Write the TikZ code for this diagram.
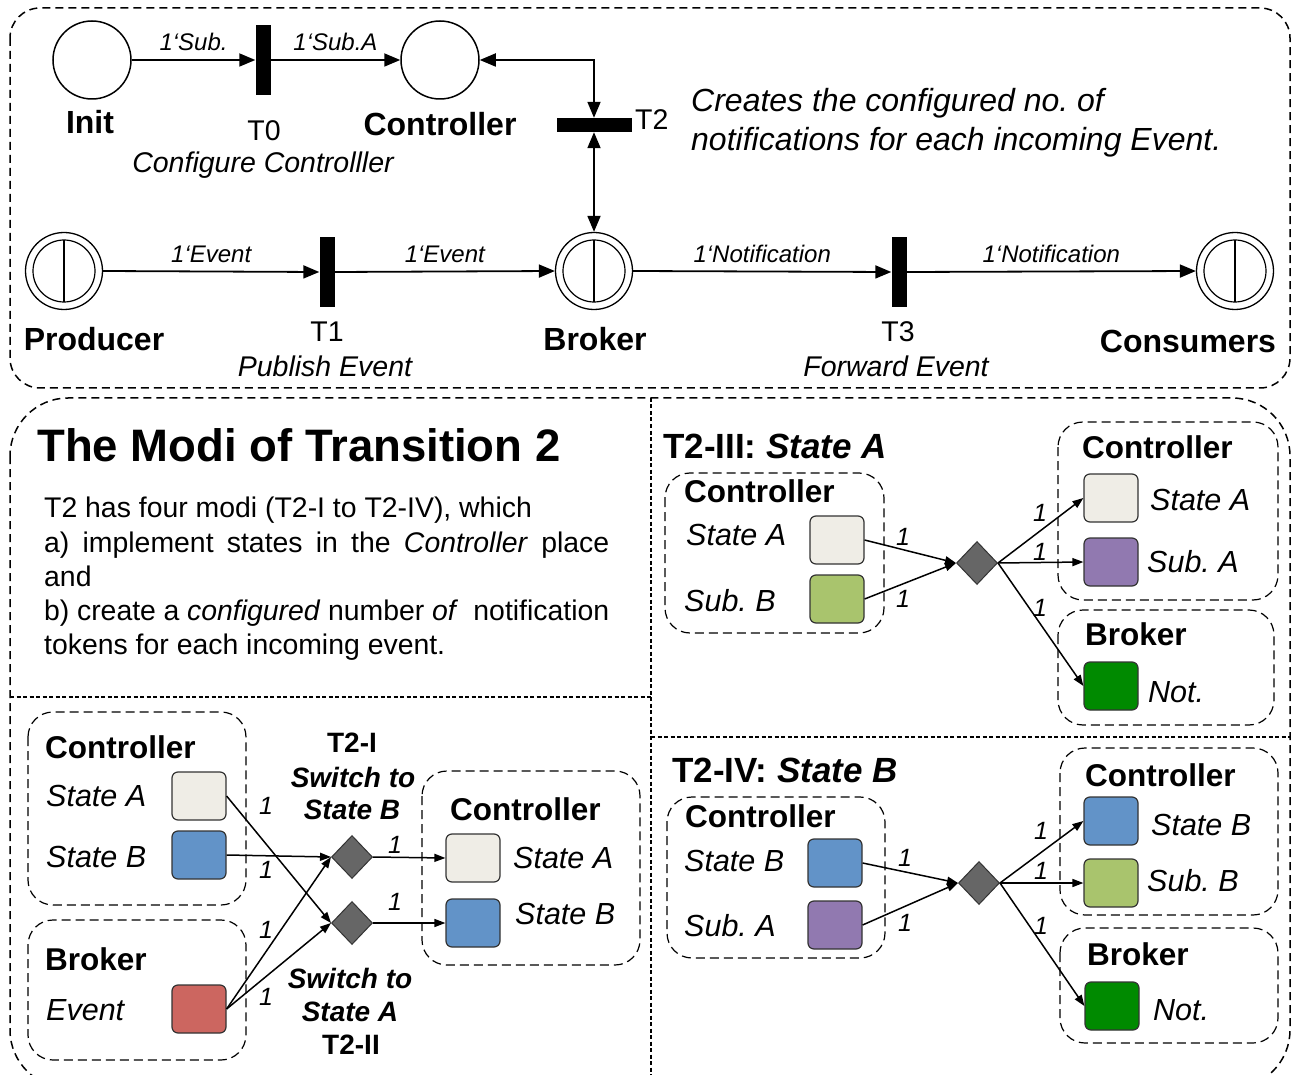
\documentclass[tikz,border=0pt]{standalone}
\usepackage{fontspec}
\setmainfont{Liberation Sans}
\usetikzlibrary{arrows.meta,shapes.geometric}
\definecolor{cLight}{HTML}{EFEDE6}
\definecolor{cBlue}{HTML}{6293C8}
\definecolor{cGreen}{HTML}{A9C46D}
\definecolor{cPurple}{HTML}{9179B0}
\definecolor{cRed}{HTML}{CC6660}
\definecolor{cDGreen}{HTML}{008A00}
\definecolor{cDia}{HTML}{666666}
\newcommand\fsz[2]{\fontsize{#1}{#2}\selectfont}
\frenchspacing
\begin{document}
\frenchspacing
\begin{tikzpicture}[x=1pt,y=-1pt,
  outerbox/.style={draw=black, line width=1.5pt, dash pattern=on 8pt off 5pt},
  divider/.style={draw=black, line width=1.2pt, dash pattern=on 4pt off 2.5pt},
  grp/.style={draw=black, line width=1.2pt, dash pattern=on 9pt off 5pt, rounded corners=25pt},
  place/.style={circle, draw=black, line width=1.5pt, minimum size=78pt, inner sep=0pt},
  dplace/.style={circle, draw=black, line width=1.3pt, minimum size=77pt, inner sep=0pt},
  bar/.style={fill=black, inner sep=0pt},
  parc/.style={line width=1.8pt, -{Triangle[length=16pt,width=13pt]}},
  parcb/.style={line width=1.8pt, {Triangle[length=16pt,width=13pt]}-{Triangle[length=16pt,width=13pt]}},
  arc/.style={line width=1.5pt, -{Triangle[length=11pt,width=8pt]}},
  tok/.style={draw=black!80, line width=1.2pt, rounded corners=6pt, minimum width=54pt, minimum height=48pt, inner sep=0pt},
  dia/.style={diamond, fill=cDia, draw=black!80, line width=1pt, minimum width=41pt, minimum height=43pt, inner sep=0pt},
  bl/.style={font=\fsz{32}{38}\bfseries},
  tl/.style={font=\fsz{28.5}{34}},
  il/.style={font=\fsz{28.5}{34}\itshape},
  el/.style={font=\fsz{24}{28}\itshape, inner sep=0pt, above=8pt},
  gt/.style={font=\fsz{31.5}{38}\bfseries, anchor=west, inner sep=0pt},
  si/.style={font=\fsz{30.5}{36}\itshape, anchor=west, inner sep=0pt},
  sw/.style={font=\fsz{28}{33}\bfseries\itshape},
  one/.style={font=\fsz{25}{29}\itshape},
  hd/.style={font=\fsz{35}{42}\bfseries, anchor=west, inner sep=0pt}
]
\useasboundingbox (0,0) rectangle (1294,1075);
\fill[white] (0,0) rectangle (1294,1075);

% ---------------- top Petri net ----------------
\draw[outerbox, rounded corners=30pt] (10,8) rectangle (1290,388);

\node[place] (init) at (92,60) {};
\node[bar, minimum width=15pt, minimum height=70pt] (t0) at (263,60) {};
\node[place] (ctrl) at (440,60) {};
\node[bar, minimum width=75pt, minimum height=14pt] (t2) at (594,125) {};

\newcommand\dplace[3]{%
  \node[dplace] (#1) at (#2,#3) {};
  \draw[line width=1.2pt] (#1.center) circle[radius=31pt];
  \draw[line width=1.2pt] ([yshift=31pt]#1.center) -- ([yshift=-31pt]#1.center);
}
\dplace{prod}{64}{271}
\node[bar, minimum width=15pt, minimum height=70pt] (t1) at (327,272) {};
\dplace{broker}{594}{271}
\node[bar, minimum width=15pt, minimum height=70pt] (t3) at (899,272) {};
\dplace{cons}{1235}{271}

\draw[parc] (init.east) -- node[el] {1‘Sub.} (t0.west);
\draw[parc] (t0.east) -- node[el] {1‘Sub.A} (ctrl.west);
\draw[parcb] (ctrl.east) -| (t2.north);
\draw[parcb] (t2.south) -- (broker.north);
\draw[parc] (prod.east) -- node[el] {1‘Event} (t1.west);
\draw[parc] (t1.east) -- node[el] {1‘Event} (broker.west);
\draw[parc] (broker.east) -- node[el] {1‘Notification} (t3.west);
\draw[parc] (t3.east) -- node[el] {1‘Notification} (cons.west);

\node[bl] (linit) at (90,122) {Init};
\node[tl] (lt0) at (264,131) {T0};
\node[il] (lt0d) at (263,165) {Configure Controlller};
\node[bl] (lctrl) at (440,124) {Controller};
\node[tl, anchor=west, inner sep=0pt] (lt2) at (635,120) {T2};
\node[font=\fsz{32}{39}\itshape, anchor=west, align=left, inner sep=0pt] (desc) at (691,123)
  {Creates the configured no. of\\notifications for each incoming Event.};
\node[bl] (lprod) at (94,339) {Producer};
\node[tl] (lt1) at (327,332) {T1};
\node[il] (lt1d) at (325,366) {Publish Event};
\node[bl] (lbroker) at (595,339) {Broker};
\node[tl] (lt3) at (898,332) {T3};
\node[il] (lt3d) at (896,366) {Forward Event};
\node[bl] (lcons) at (1188,341) {Consumers};

% ---------------- bottom part ----------------
\draw[outerbox, rounded corners=58pt] (10,398) rectangle (1290,1088);
\draw[divider] (10,697) -- (651,697);
\draw[divider] (651,398) -- (651,1075);
\draw[divider] (651,737) -- (1290,737);

\node[font=\fsz{45.5}{54}\bfseries, anchor=west, inner sep=0pt] (title) at (37,445) {The Modi of Transition 2};
\node[font=\fsz{28.4}{34.3}, anchor=west, align=left, inner sep=0pt] (body) at (44,579)
  {T2 has four modi (T2-I to T2-IV), which\\
   \makebox[565pt][s]{a) implement states in the \textit{Controller} place}\\
   and\\
   \makebox[565pt][s]{b) create a \textit{configured} number \textit{of}\ \ notification}\\
   tokens for each incoming event.};

% T2-I / T2-II
\draw[grp] (28,712) rectangle (246,905);
\draw[grp] (28,920) rectangle (246,1060);
\draw[grp] (422,771) rectangle (640,965);
\node[gt] (g1) at (45,747) {Controller};
\node[si] (g1a) at (46,796) {State A};
\node[si] (g1b) at (46,857) {State B};
\node[gt] (g2) at (45,959) {Broker};
\node[si] (g2a) at (46,1010) {Event};
\node[gt] (g3) at (450,809) {Controller};
\node[si] (g3a) at (513,858) {State A};
\node[si] (g3b) at (515,914) {State B};

\node[tok, fill=cLight] (la) at (199,796) {};
\node[tok, fill=cBlue] (lb) at (199,855) {};
\node[tok, fill=cRed] (ev) at (199,1009) {};
\node[dia] (d1) at (352,857) {};
\node[dia] (d2) at (352,923) {};
\node[tok, fill=cLight] (ra) at (473,858) {};
\node[tok, fill=cBlue] (rb) at (473,923) {};

\draw[arc] (la.east) -- (d2.west);
\draw[arc] (lb.east) -- (d1.west);
\draw[arc] (ev.east) -- (d1.west);
\draw[arc] (ev.east) -- (d2.west);
\draw[arc] (d1.east) -- (ra.west);
\draw[arc] (d2.east) -- (rb.west);
\node[one] at (266,806) {1};
\node[one] at (266,870) {1};
\node[one] at (266,930) {1};
\node[one] at (266,997) {1};
\node[one] at (395,845) {1};
\node[one] at (395,902) {1};

\node[sw, font=\fsz{28}{33}\bfseries] (m1) at (352,743) {T2-I};
\node[sw] (m1a) at (353,777) {Switch to};
\node[sw] (m1b) at (352,810) {State B};
\node[sw] (m2a) at (350,978) {Switch to};
\node[sw] (m2b) at (350,1012) {State A};
\node[sw, font=\fsz{28}{33}\bfseries] (m2) at (351,1045) {T2-II};

% T2-III
\node[hd] (h3) at (663,446) {T2-III: \textit{State A}};
\draw[grp] (665,473) rectangle (884,633);
\draw[grp] (1058,422) rectangle (1278,600);
\draw[grp] (1058,610) rectangle (1274,725);
\node[gt] (c3) at (684,491) {Controller};
\node[si] (c3a) at (686,535) {State A};
\node[si] (c3b) at (684,601) {Sub. B};
\node[gt] (c3r) at (1082,447) {Controller};
\node[si] (c3ra) at (1150,500) {State A};
\node[si] (c3rb) at (1147,562) {Sub. A};
\node[gt] (c3br) at (1085,634) {Broker};
\node[si] (c3n) at (1148,692) {Not.};

\node[tok, fill=cLight] (p3a) at (837,540) {};
\node[tok, fill=cGreen] (p3b) at (837,599) {};
\node[dia] (d3) at (977,563) {};
\node[tok, fill=cLight] (q3a) at (1111,498) {};
\node[tok, fill=cPurple] (q3b) at (1111,562) {};
\node[tok, fill=cDGreen] (q3n) at (1111,686) {};
\draw[arc] (p3a.east) -- (d3.west);
\draw[arc] (p3b.east) -- (d3.west);
\draw[arc] (d3.east) -- (q3a.west);
\draw[arc] (d3.east) -- (q3b.west);
\draw[arc] (d3.east) -- (q3n.west);
\node[one] at (903,537) {1};
\node[one] at (903,599) {1};
\node[one] at (1040,513) {1};
\node[one] at (1040,552) {1};
\node[one] at (1040,608) {1};

% T2-IV
\node[hd] (h4) at (672,770) {T2-IV: \textit{State B}};
\draw[grp] (667,797) rectangle (885,958);
\draw[grp] (1060,748) rectangle (1278,915);
\draw[grp] (1060,928) rectangle (1278,1043);
\node[gt] (c4) at (685,816) {Controller};
\node[si] (c4a) at (684,861) {State B};
\node[si] (c4b) at (684,926) {Sub. A};
\node[gt] (c4r) at (1085,775) {Controller};
\node[si] (c4ra) at (1151,825) {State B};
\node[si] (c4rb) at (1147,881) {Sub. B};
\node[gt] (c4br) at (1087,954) {Broker};
\node[si] (c4n) at (1153,1010) {Not.};

\node[tok, fill=cBlue] (p4a) at (835,863) {};
\node[tok, fill=cPurple] (p4b) at (835,925) {};
\node[dia] (d4) at (979,883) {};
\node[tok, fill=cBlue] (q4a) at (1111,821) {};
\node[tok, fill=cGreen] (q4b) at (1111,883) {};
\node[tok, fill=cDGreen] (q4n) at (1112,1006) {};
\draw[arc] (p4a.east) -- (d4.west);
\draw[arc] (p4b.east) -- (d4.west);
\draw[arc] (d4.east) -- (q4a.west);
\draw[arc] (d4.east) -- (q4b.west);
\draw[arc] (d4.east) -- (q4n.west);
\node[one] at (905,858) {1};
\node[one] at (905,923) {1};
\node[one] at (1041,831) {1};
\node[one] at (1041,871) {1};
\node[one] at (1041,926) {1};
\end{tikzpicture}
\end{document}
